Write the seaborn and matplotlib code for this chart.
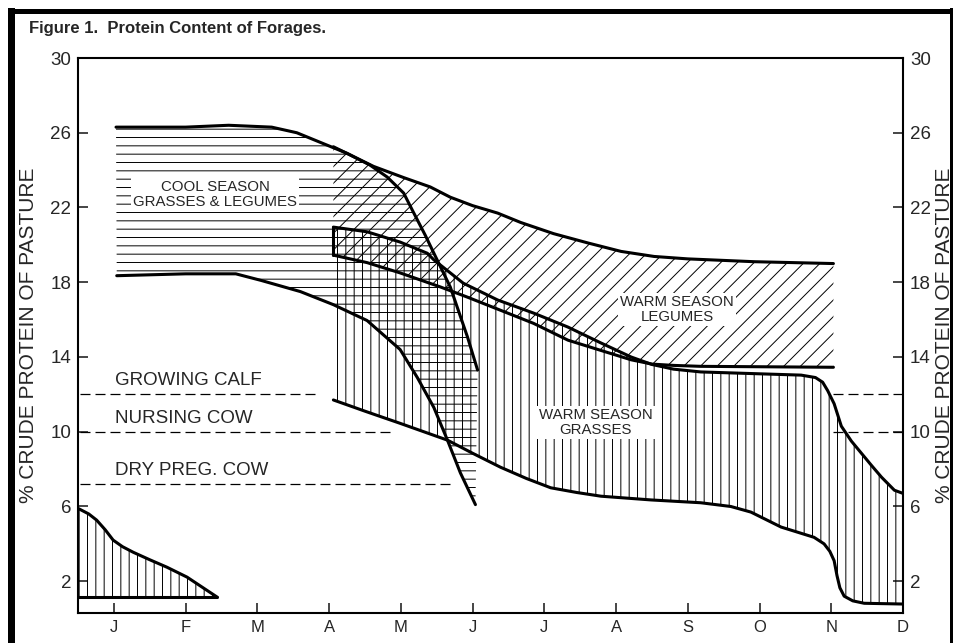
import numpy as np
import matplotlib
matplotlib.use("Agg")
import matplotlib.pyplot as plt
import seaborn as sns
from matplotlib.patches import Rectangle

# x = month position (0 = Jan ... 11 = Dec), y = % crude protein
months = ['J', 'F', 'M', 'A', 'M', 'J', 'J', 'A', 'S', 'O', 'N', 'D']
yticks = [2, 6, 10, 14, 18, 22, 26, 30]

cool_top_m = [0.03, 0.5, 1.0, 1.6, 2.2, 2.55, 2.9, 3.25, 3.57, 3.81, 4.04, 4.16, 4.34, 4.46, 4.69, 4.93, 5.07]
cool_top_v = [26.3, 26.3, 26.3, 26.4, 26.3, 26.0, 25.45, 24.9, 24.27, 23.63, 22.77, 21.86, 20.52, 19.56, 17.74, 15.06, 13.3]
cool_bot_m = [0.04, 1.0, 1.7, 2.05, 2.6, 3.06, 3.53, 3.99, 4.23, 4.46, 4.65, 4.83, 5.04]
cool_bot_v = [18.35, 18.45, 18.45, 18.1, 17.5, 16.8, 15.95, 14.4, 12.9, 11.3, 9.55, 7.8, 6.1]

leg_top_m = [3.06, 3.3, 3.62, 4.04, 4.41, 4.69, 5.0, 5.35, 5.67, 6.13, 6.61, 7.07, 7.53, 8.0, 8.92, 10.03]
leg_top_v = [25.25, 24.8, 24.2, 23.6, 23.1, 22.55, 22.1, 21.7, 21.2, 20.6, 20.1, 19.65, 19.38, 19.25, 19.1, 19.0]
leg_bot_m = [3.06, 3.53, 3.99, 4.55, 4.93, 5.39, 5.85, 6.33, 6.79, 7.21, 7.5, 7.8, 8.18, 10.03]
leg_bot_v = [19.45, 19.05, 18.5, 17.75, 17.2, 16.5, 15.8, 14.9, 14.35, 13.85, 13.62, 13.55, 13.5, 13.45]

grass_top_m = [3.06, 3.53, 3.99, 4.37, 4.46, 4.87, 5.35, 5.85, 6.33, 6.79, 7.21, 7.5, 7.8, 8.18, 9.0, 9.58,
               9.78, 9.88, 9.95, 10.04, 10.14, 10.28, 10.42, 10.56, 10.7, 10.88, 11.0]
grass_top_v = [20.95, 20.7, 20.15, 19.55, 19.2, 17.95, 17.05, 16.35, 15.6, 14.75, 14.0, 13.6, 13.35, 13.2, 13.1, 13.03,
               12.9, 12.65, 12.2, 11.5, 10.3, 9.5, 8.85, 8.2, 7.57, 6.87, 6.7]
grass_bot_m = [3.06, 3.5, 3.99, 4.65, 5.0, 5.39, 5.75, 6.09, 6.45, 6.79, 7.49, 8.18, 8.6, 8.88, 9.3, 9.76,
               9.9, 9.98, 10.04, 10.08, 10.12, 10.18, 10.3, 10.46, 11.0]
grass_bot_v = [11.7, 11.1, 10.45, 9.55, 8.85, 8.1, 7.5, 7.0, 6.75, 6.55, 6.35, 6.2, 6.0, 5.7, 4.9, 4.35,
               4.0, 3.6, 3.1, 2.3, 1.65, 1.2, 0.95, 0.82, 0.78]

jan_m = [-0.5, -0.35, -0.24, -0.12, -0.01, 0.12, 0.27, 0.5, 0.74, 1.02, 1.44]
jan_v = [5.9, 5.6, 5.27, 4.75, 4.2, 3.85, 3.55, 3.15, 2.75, 2.22, 1.15]
jan_base = 1.15

# nutrient requirement lines
req_names = ['GROWING CALF', 'NURSING COW', 'DRY PREG. COW']
req_values = [12, 10, 7.2]
req_left_end = [2.85, 3.88, 4.73]
req_right = [True, True, False]

sns.set_theme(style="white")
plt.rcParams['font.family'] = ['Liberation Sans', 'DejaVu Sans']
plt.rcParams['hatch.linewidth'] = 0.7
plt.rcParams['hatch.color'] = 'black'

fig = plt.figure(figsize=(9.55, 6.43), dpi=100)
ax = fig.add_axes([78 / 955, 1 - 613 / 643, 825 / 955, 555 / 643])

# hatched areas
ax.fill(np.r_[cool_top_m, cool_bot_m[::-1]], np.r_[cool_top_v, cool_bot_v[::-1]],
        facecolor='none', edgecolor='black', linewidth=0, hatch='--')
ax.fill(np.r_[leg_top_m, leg_bot_m[::-1]], np.r_[leg_top_v, leg_bot_v[::-1]],
        facecolor='none', edgecolor='black', linewidth=0, hatch='//')
ax.fill(np.r_[grass_top_m, grass_bot_m[::-1]], np.r_[grass_top_v, grass_bot_v[::-1]],
        facecolor='none', edgecolor='black', linewidth=0, hatch='||')
ax.fill(np.r_[jan_m, jan_m[::-1]], np.r_[jan_v, [jan_base] * len(jan_m)],
        facecolor='none', edgecolor='black', linewidth=0, hatch='||')

# boundary curves
for xm, yv in [(cool_top_m, cool_top_v), (cool_bot_m, cool_bot_v), (leg_top_m, leg_top_v),
               (leg_bot_m, leg_bot_v), (grass_top_m, grass_top_v), (grass_bot_m, grass_bot_v),
               (jan_m, jan_v)]:
    sns.lineplot(x=xm, y=yv, sort=False, estimator=None, color='black', linewidth=2.2, ax=ax)
sns.lineplot(x=[jan_m[0], jan_m[-1]], y=[jan_base, jan_base], color='black', linewidth=2.2, ax=ax)
sns.lineplot(x=[grass_top_m[0], grass_top_m[0]], y=[leg_bot_v[0], grass_top_v[0]],
             sort=False, estimator=None, color='black', linewidth=2.2, ax=ax)

# requirement lines
for name, val, xe, right in zip(req_names, req_values, req_left_end, req_right):
    ax.plot([-0.47, xe], [val, val], color='black', linewidth=0.9, linestyle=(0, (8, 4)))
    if right:
        ax.plot([10.03, 11.0], [val, val], color='black', linewidth=0.9, linestyle=(0, (8, 4)))
    ax.text(0.02, val + 0.72, name, fontsize=13.5, ha='left', va='center')

box = dict(facecolor='white', edgecolor='none', pad=1.5)
ax.text(1.41, 22.7, 'COOL SEASON\nGRASSES & LEGUMES', fontsize=10.8, ha='center', va='center',
        linespacing=1.12, bbox=box)
ax.text(7.85, 16.55, 'WARM SEASON\nLEGUMES', fontsize=10.8, ha='center', va='center',
        linespacing=1.12, bbox=box)
ax.text(6.72, 10.5, 'WARM SEASON\nGRASSES', fontsize=10.8, ha='center', va='center',
        linespacing=1.12, bbox=box)

ax.set_xlim(-0.5, 11.0)
ax.set_ylim(0.3, 30)
ax.set_xticks(range(12))
ax.set_xticklabels(months)
ax.set_yticks(yticks)
ax.tick_params(axis='y', left=True, right=True, labelleft=True, labelright=True,
               direction='in', length=7, width=1.2, labelsize=13.5, pad=5)
ax.tick_params(axis='x', bottom=True, direction='in', length=7, width=1.2, labelsize=12, pad=5)
for s in ax.spines.values():
    s.set_color('black')
    s.set_linewidth(1.5)
ax.set_xlabel('')
ax.set_ylabel('')

fig.text(29 / 955, 1 - 335 / 643, '% CRUDE PROTEIN OF PASTURE', rotation=90,
         ha='center', va='center', fontsize=15)
fig.text(944 / 955, 1 - 335 / 643, '% CRUDE PROTEIN OF PASTURE', rotation=90,
         ha='center', va='center', fontsize=15)
fig.text(29 / 955, 1 - 28 / 643, 'Figure 1.  Protein Content of Forages.', fontsize=12,
         fontweight='bold', ha='left', va='center')

# page frame
fig.patches.append(Rectangle((8 / 955, 0), 7 / 955, 1 - 8 / 643, transform=fig.transFigure,
                             facecolor='black', edgecolor='none'))
fig.patches.append(Rectangle((8 / 955, 1 - 14 / 643), 945 / 955, 5 / 643, transform=fig.transFigure,
                             facecolor='black', edgecolor='none'))
fig.patches.append(Rectangle((950 / 955, 0), 3 / 955, 1 - 8 / 643, transform=fig.transFigure,
                             facecolor='black', edgecolor='none'))

fig.savefig('out.png', dpi=100)
